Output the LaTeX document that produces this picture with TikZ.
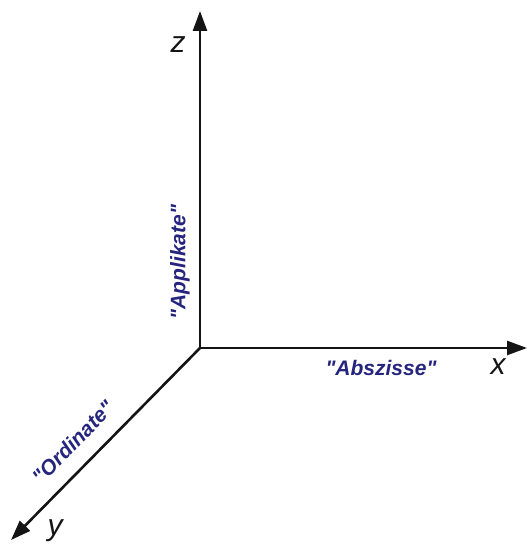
\documentclass[tikz,border=0pt]{standalone}
\usepackage{fontspec}
\setmainfont{Liberation Sans}
\usetikzlibrary{arrows.meta, positioning}
\definecolor{axisstroke}{HTML}{141414}
\definecolor{nametext}{HTML}{25257E}

\begin{document}
\begin{tikzpicture}[
    x=1pt, y=1pt,
    axis/.style={-{Triangle[length=20pt, width=14pt]}, line width=2.6pt, draw=axisstroke},
    axis_letter/.style={font=\fontsize{30}{30}\selectfont\itshape, text=axisstroke, inner sep=0pt},
    axis_name/.style={font=\fontsize{21}{21}\selectfont\bfseries\itshape, text=nametext, inner sep=0pt}
]
    \useasboundingbox (0,0) rectangle (527,548);

    % Origin and axis ends
    \coordinate (origin) at (200,200);
    \coordinate (z_end) at (200,537);
    \coordinate (x_end) at (527,200);
    \coordinate (y_end) at (11,8);

    % Axes
    \draw[axis] (origin) -- (z_end);
    \draw[axis] (origin) -- (x_end);
    \draw[axis] (origin) -- (y_end);

    % Axis letters
    \node[axis_letter] (z_label) at (178,503) {z};
    \node[axis_letter] (x_label) at (498,181) {x};
    \node[axis_letter] (y_label) at (55,17) {y};

    % Axis names
    \node[axis_name, rotate=90] (applikate) at (180,286) {\textquotedbl Applikate\textquotedbl};
    \node[axis_name] (abszisse) at (381,180) {\textquotedbl Abszisse\textquotedbl};
    \node[axis_name, rotate=45.6] (ordinate) at (73,106) {\textquotedbl Ordinate\textquotedbl};

\end{tikzpicture}
\end{document}
